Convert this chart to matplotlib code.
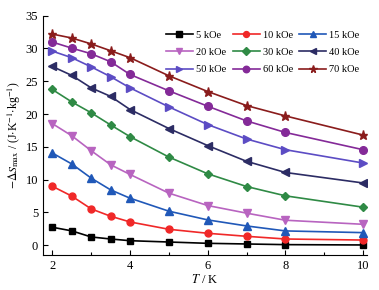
import matplotlib
matplotlib.use("Agg")
import matplotlib.pyplot as plt
from matplotlib.ticker import MultipleLocator

plt.rcParams['font.family'] = ['Liberation Serif', 'DejaVu Serif']
plt.rcParams['mathtext.fontset'] = 'stix'

T = [2, 2.5, 3, 3.5, 4, 5, 6, 7, 8, 10]
labels = ['5 kOe', '10 kOe', '15 kOe', '20 kOe', '30 kOe', '40 kOe', '50 kOe', '60 kOe', '70 kOe']
s5 = [2.75, 2.2, 1.27, 0.96, 0.7, 0.5, 0.3, 0.2, 0.1, 0.05]
s10 = [9.0, 7.5, 5.55, 4.43, 3.56, 2.44, 1.83, 1.37, 0.96, 0.8]
s15 = [14.07, 12.4, 10.24, 8.45, 7.18, 5.2, 3.87, 2.95, 2.19, 1.93]
s20 = [18.55, 16.7, 14.42, 12.28, 10.8, 7.95, 6.06, 4.9, 3.82, 3.2]
s30 = [23.75, 21.86, 20.2, 18.35, 16.56, 13.45, 10.9, 8.96, 7.54, 5.81]
s40 = [27.26, 25.9, 24.0, 22.7, 20.7, 17.8, 15.2, 12.8, 11.1, 9.5]
s50 = [29.6, 28.6, 27.2, 25.7, 24.0, 21.1, 18.4, 16.2, 14.57, 12.54]
s60 = [30.98, 30.06, 29.2, 27.98, 26.04, 23.55, 21.2, 18.96, 17.2, 14.57]
s70 = [32.2, 31.6, 30.7, 29.66, 28.6, 25.84, 23.44, 21.3, 19.72, 16.8]
series = [s5, s10, s15, s20, s30, s40, s50, s60, s70]
colors = ['#000000', '#f02828', '#2058b8', '#b864c0', '#2f8a45', '#2c2c64', '#5c4cc4', '#842a98', '#8a1c1c']
markers = ['s', 'o', '^', 'v', 'D', '<', '>', 'o', '*']
msizes = [4.5, 5, 5.5, 5.5, 4.5, 5.5, 5.5, 5.5, 6.5]

fig = plt.figure(figsize=(3.79, 2.90), dpi=100)
ax = fig.add_axes([43/379, 35/290, 324/379, 239.3/290])
handles = []
for y, lab, c, m, ms in zip(series, labels, colors, markers, msizes):
    h, = ax.plot(T, y, color=c, marker=m, ms=ms, lw=1.2, label=lab)
    handles.append(h)

ax.set_xlim(1.76, 10.1)
ax.set_ylim(-1.48, 35)
ax.xaxis.set_major_locator(MultipleLocator(2))
ax.xaxis.set_minor_locator(MultipleLocator(1))
ax.yaxis.set_major_locator(MultipleLocator(5))
ax.spines['top'].set_visible(False)
ax.spines['right'].set_visible(False)
ax.tick_params(direction='in', which='both', labelsize=9, width=0.8)
ax.tick_params(which='major', length=3.5)
ax.tick_params(which='minor', length=2)
ax.set_xlabel(r'$\mathit{T}$ / K', fontsize=9, labelpad=1)
ax.set_ylabel(r'$-\Delta S_{\rm max}$ / (J$\cdot$K$^{-1}$$\cdot$kg$^{-1}$)', fontsize=8.5, labelpad=2)
order = [0, 3, 6, 1, 4, 7, 2, 5, 8]
ax.legend([handles[i] for i in order], [labels[i] for i in order],
          ncol=3, loc='upper right', bbox_to_anchor=(1.0, 0.968), frameon=False,
          fontsize=7.5, handlelength=2.6, columnspacing=0.6, handletextpad=0.3,
          labelspacing=0.75, borderaxespad=0.3, markerscale=0.85)
fig.savefig('out.png', dpi=100)
